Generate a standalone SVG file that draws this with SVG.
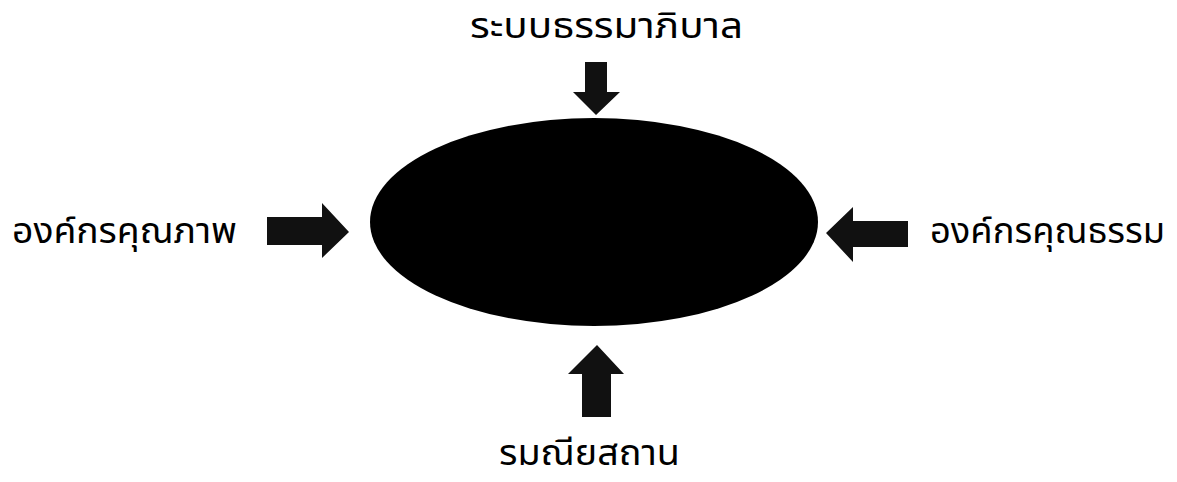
<svg xmlns="http://www.w3.org/2000/svg" width="1177" height="482" viewBox="0 0 1177 482">
<style>
.lbl{font-family:"Noto Sans Thai","Noto Sans","DejaVu Sans",sans-serif;font-size:36px;font-weight:400;fill:#000}
.arr{fill:#111}
</style>
<rect width="1177" height="482" fill="#fff"/>
<g id="center"><ellipse cx="594" cy="222" rx="224" ry="104" fill="#000"/></g>
<g id="top"><text class="lbl" x="470" y="38" textLength="273" lengthAdjust="spacingAndGlyphs">ระบบธรรมาภิบาล</text></g>
<g id="left"><text class="lbl" x="12" y="243" textLength="225" lengthAdjust="spacingAndGlyphs">องค์กรคุณภาพ</text></g>
<g id="right"><text class="lbl" x="930" y="243" textLength="235" lengthAdjust="spacingAndGlyphs">องค์กรคุณธรรม</text></g>
<g id="bottom"><text class="lbl" x="499" y="465" textLength="181" lengthAdjust="spacingAndGlyphs">รมณียสถาน</text></g>
<g id="connectors">
<polygon class="arr" points="585,62 607,62 607,92 620,92 596,115 573,92 585,92"/>
<polygon class="arr" points="267,217 322,217 322,203 349,232 322,258 322,245 267,245"/>
<polygon class="arr" points="908,221 853,221 853,207 826,233 853,262 853,247 908,247"/>
<polygon class="arr" points="582,417 611,417 611,374 624,374 597,345 568,374 582,374"/>
</g>
</svg>
